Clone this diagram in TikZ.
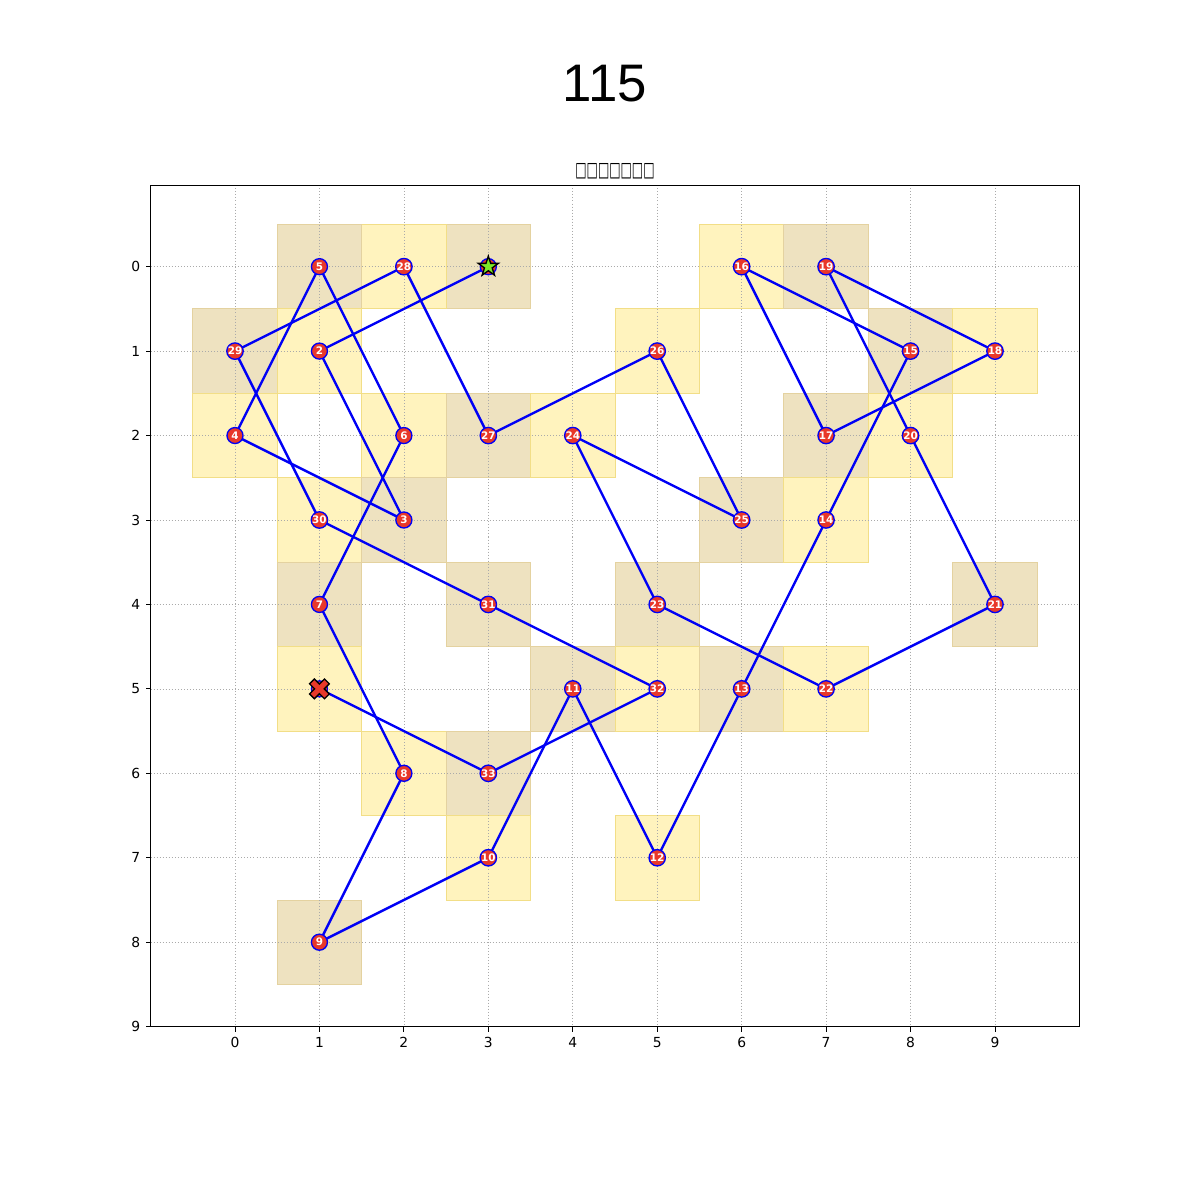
\documentclass[tikz,border=0pt]{standalone}
\usepackage{fontspec}
\setmainfont{DejaVu Sans}
\newfontfamily\titlefont{Liberation Sans}
\usetikzlibrary{shapes.geometric}
\definecolor{tancell}{RGB}{238,226,192}
\definecolor{tanedge}{RGB}{228,210,160}
\definecolor{yelcell}{RGB}{255,243,190}
\definecolor{yeledge}{RGB}{242,222,135}
\definecolor{nodered}{RGB}{232,56,42}
\definecolor{pathblue}{RGB}{0,0,245}
\definecolor{stargreen}{RGB}{124,232,40}
\definecolor{gridgray}{RGB}{170,170,170}
\tikzset{
  tancellsty/.style={fill=tancell,draw=tanedge,line width=0.3pt},
  yelcellsty/.style={fill=yelcell,draw=yeledge,line width=0.3pt},
  gridsty/.style={draw=gridgray,line width=0.25pt,dash pattern=on 0.34pt off 0.68pt},
  pt/.style={circle,fill=nodered,draw=pathblue,line width=0.45pt,minimum size=0.19cm,inner sep=0pt,
    text=white,font=\fontsize{3.5}{4}\selectfont\bfseries},
  edge/.style={draw=pathblue,line width=0.8pt},
  ticklab/.style={font=\fontsize{4.67}{5}\selectfont,inner sep=0pt},
}
\begin{document}
\begin{tikzpicture}[x=1cm,y=-1cm]
\useasboundingbox (-2.783,-3.158) rectangle (11.428,11.053);
% cells
\foreach \x/\y in {3/0,2/0,1/0,6/0,7/0,0/1,1/1,5/1,8/1,9/1,0/2,2/2,3/2,4/2,7/2,8/2,1/3,2/3,6/3,7/3,1/4,3/4,5/4,9/4,1/5,4/5,5/5,6/5,7/5,2/6,3/6,3/7,5/7,1/8}{
  \pgfmathtruncatemacro{\cpar}{mod(\x+\y,2)}
  \ifnum\cpar=1
    \path[tancellsty] (\x-0.5,\y-0.5) rectangle (\x+0.5,\y+0.5);
  \else
    \path[yelcellsty] (\x-0.5,\y-0.5) rectangle (\x+0.5,\y+0.5);
  \fi
}
% grid
\foreach \i in {0,...,9}{
  \draw[gridsty] (\i,-0.963) -- (\i,9);
  \draw[gridsty] (-1,\i) -- (10,\i);
}
% ticks and labels
\foreach \i in {0,...,9}{
  \draw[line width=0.3pt] (\i,9) -- (\i,9.058);
  \node[ticklab,anchor=north] at (\i,9.116) {\i};
  \draw[line width=0.3pt] (-1,\i) -- (-1.058,\i);
  \node[ticklab,anchor=east] at (-1.116,\i) {\i};
}
% titles
\node[font=\titlefont\fontsize{17.8}{20}\selectfont,inner sep=0pt] (title) at (4.38,-2.164) {115};
\node[inner sep=0pt] (subtitle) at (4.5,-1.13) {\scalebox{0.62}[1.05]{\fontsize{6.5}{7}\selectfont □□□□□□□}};
% nodes
\foreach \n/\x/\y in {1/3/0,2/1/1,3/2/3,4/0/2,5/1/0,6/2/2,7/1/4,8/2/6,9/1/8,10/3/7,11/4/5,12/5/7,13/6/5,14/7/3,15/8/1,16/6/0,17/7/2,18/9/1,19/7/0,20/8/2,21/9/4,22/7/5,23/5/4,24/4/2,25/6/3,26/5/1,27/3/2,28/2/0,29/0/1,30/1/3,31/3/4,32/5/5,33/3/6,34/1/5}{
  \coordinate (c\n) at (\x,\y);
}
% edges
\foreach \a/\b in {1/2,2/3,3/4,4/5,5/6,6/7,7/8,8/9,9/10,10/11,11/12,12/13,13/14,14/15,15/16,16/17,17/18,18/19,19/20,20/21,21/22,22/23,23/24,24/25,25/26,26/27,27/28,28/29,29/30,30/31,31/32,32/33,33/34}{
  \draw[edge] (c\a) -- (c\b);
}
\foreach \n in {2,...,33}{
  \node[pt] (n\n) at (c\n) {\n};
}
\node[pt] (n1) at (c1) {};
\node[pt] (n34) at (c34) {};
% start star
\node[star,star points=5,star point ratio=2.6,fill=stargreen,draw=black,line width=0.45pt,minimum size=0.25cm,inner sep=0pt] (start) at (c1) {};
% end X
\begin{scope}[shift={(c34)},rotate=45]
\filldraw[fill=nodered,draw=black,line width=0.45pt]
 (0.04,0.125) -- (0.04,0.04) -- (0.125,0.04) -- (0.125,-0.04) -- (0.04,-0.04) -- (0.04,-0.125)
 -- (-0.04,-0.125) -- (-0.04,-0.04) -- (-0.125,-0.04) -- (-0.125,0.04) -- (-0.04,0.04) -- (-0.04,0.125) -- cycle;
\end{scope}
% frame
\draw[line width=0.35pt] (-1,-0.963) rectangle (10,9);
\end{tikzpicture}
\end{document}
